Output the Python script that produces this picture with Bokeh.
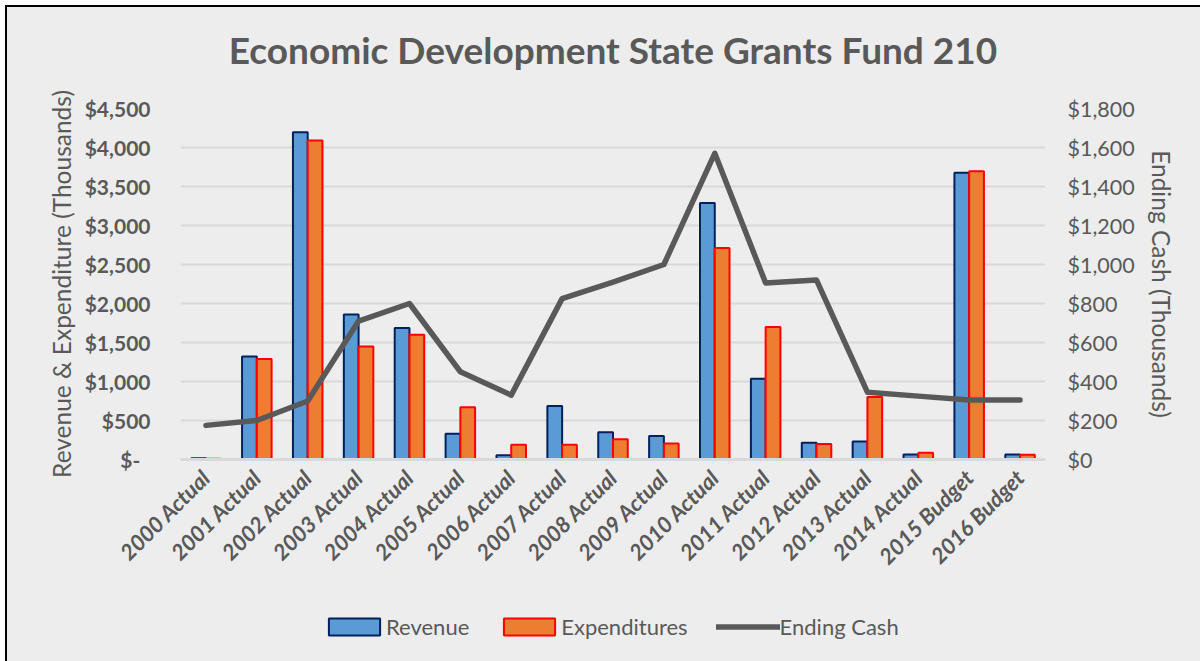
from bokeh.plotting import figure
from bokeh.models import (Range1d, LinearAxis, FixedTicker, Legend, LegendItem,
                          ColumnDataSource, FactorRange, Column, Title)
from bokeh.transform import dodge
from bokeh.embed import file_html
from bokeh.resources import INLINE
import math

categories = ["2000 Actual", "2001 Actual", "2002 Actual", "2003 Actual", "2004 Actual",
              "2005 Actual", "2006 Actual", "2007 Actual", "2008 Actual", "2009 Actual",
              "2010 Actual", "2011 Actual", "2012 Actual", "2013 Actual", "2014 Actual",
              "2015 Budget", "2016 Budget"]
revenue = [15, 1320, 4195, 1860, 1685, 330, 55, 685, 350, 300,
           3290, 1035, 215, 230, 65, 3675, 65]
expenditures = [10, 1290, 4090, 1450, 1600, 670, 190, 190, 260, 205,
                2710, 1700, 200, 800, 85, 3695, 60]
ending_cash = [175, 200, 300, 710, 800, 450, 330, 825, 910, 1000,
               1570, 905, 920, 345, 325, 305, 305]

left_ticks = [0, 500, 1000, 1500, 2000, 2500, 3000, 3500, 4000, 4500]
left_tick_labels = ["$-\u00a0\u00a0", "$500", "$1,000", "$1,500", "$2,000", "$2,500",
                    "$3,000", "$3,500", "$4,000", "$4,500"]
right_ticks = [0, 200, 400, 600, 800, 1000, 1200, 1400, 1600, 1800]
right_tick_labels = ["$0", "$200", "$400", "$600", "$800", "$1,000",
                     "$1,200", "$1,400", "$1,600", "$1,800"]
series_names = ["Revenue", "Expenditures", "Ending Cash"]
title_text = "Economic Development State Grants Fund 210"

TXT = "#595959"
BG = "#EDEDED"
FONT = "Lato"
REV_FILL, REV_LINE = "#5B9BD5", "#002060"
EXP_FILL, EXP_LINE = "#ED7D31", "#FF0000"
CASH_LINE = "#595959"

W = 1193
NAN = float("nan")

src = ColumnDataSource(dict(cat=categories, rev=revenue, exp=expenditures, cash=ending_cash))

p = figure(width=W, height=598, output_backend="svg", toolbar_location=None,
           x_range=FactorRange(factors=categories, range_padding=0),
           y_range=Range1d(0, 4500),
           min_border_left=173, min_border_right=W - 1038, min_border_top=101,
           min_border_bottom=146,
           background_fill_color=BG, border_fill_color=BG, outline_line_color=None)

# spacer (closest to the frame), then the real title above it
p.add_layout(Title(text=" ", text_font_size="10px", standoff=7), "above")
p.add_layout(Title(text=title_text, align="center", text_font=FONT, text_font_size="37px",
                   text_font_style="bold", text_color=TXT, standoff=34), "above")

p.extra_y_ranges = {"cash": Range1d(0, 1800)}

bw = 0.29
p.vbar(x=dodge("cat", -bw / 2, range=p.x_range), top="rev", width=bw, source=src,
       fill_color=REV_FILL, line_color=REV_LINE, line_width=2)
p.vbar(x=dodge("cat", bw / 2, range=p.x_range), top="exp", width=bw, source=src,
       fill_color=EXP_FILL, line_color=EXP_LINE, line_width=2)
p.line(x="cat", y="cash", source=src, y_range_name="cash",
       line_color=CASH_LINE, line_width=5.5, line_join="round", line_cap="round")

# left axis
ya = p.yaxis[0]
ya.ticker = FixedTicker(ticks=left_ticks)
ya.major_label_overrides = {t: l for t, l in zip(left_ticks, left_tick_labels)}
ya.axis_label = "Revenue & Expenditure (Thousands)"
ya.axis_line_color = None
ya.major_tick_line_color = None
ya.minor_tick_line_color = None
ya.major_label_text_font = FONT
ya.major_label_text_font_size = "21px"
ya.major_label_text_font_style = "bold"
ya.major_label_text_color = TXT
ya.major_label_standoff = 24
ya.axis_label_text_font = FONT
ya.axis_label_text_font_size = "24.5px"
ya.axis_label_text_font_style = "normal"
ya.axis_label_text_color = TXT
ya.axis_label_standoff = 6

# right axis
ra = LinearAxis(y_range_name="cash", ticker=FixedTicker(ticks=right_ticks))
ra.major_label_overrides = {t: l for t, l in zip(right_ticks, right_tick_labels)}
ra.axis_label = "Ending Cash (Thousands)"
ra.axis_line_color = None
ra.major_tick_line_color = None
ra.minor_tick_line_color = None
ra.major_label_text_font = FONT
ra.major_label_text_font_size = "21.5px"
ra.major_label_text_color = TXT
ra.major_label_standoff = 16
ra.axis_label_text_font = FONT
ra.axis_label_text_font_size = "24.5px"
ra.axis_label_text_font_style = "normal"
ra.axis_label_text_color = TXT
ra.axis_label_standoff = 9
p.add_layout(ra, "right")

# x axis
xa = p.xaxis[0]
xa.axis_line_color = "#D9D9D9"
xa.axis_line_width = 3
xa.major_tick_line_color = None
xa.minor_tick_line_color = None
xa.major_label_orientation = math.pi / 4
xa.major_label_text_font = FONT
xa.major_label_text_font_size = "22px"
xa.major_label_text_font_style = "bold italic"
xa.major_label_text_color = TXT
xa.major_label_standoff = 8

p.xgrid.grid_line_color = None
p.ygrid.ticker = FixedTicker(ticks=left_ticks)
p.ygrid.grid_line_color = "#D9D9D9"
p.ygrid.grid_line_width = 2

# legend strip below the chart (same borders so frames line up)
lf = figure(width=W, height=56, output_backend="svg", toolbar_location=None,
            x_range=Range1d(0, 1), y_range=Range1d(0, 1),
            x_axis_location=None, y_axis_location=None,
            min_border_left=173, min_border_right=W - 1038, min_border_top=0,
            min_border_bottom=0, outline_line_color=None,
            background_fill_color=BG, border_fill_color=BG)
lf.grid.visible = False
# legend-only renderers with no drawable data (NaN), used just for the legend swatches
lr = lf.vbar(x=[NAN], top=[NAN], width=0.1,
             fill_color=REV_FILL, line_color=REV_LINE, line_width=2)
le = lf.vbar(x=[NAN], top=[NAN], width=0.1,
             fill_color=EXP_FILL, line_color=EXP_LINE, line_width=2)
lc = lf.line(x=[NAN, NAN], y=[NAN, NAN], line_color=CASH_LINE, line_width=5.5,
             line_cap="round")
legend = Legend(items=[LegendItem(label=series_names[0], renderers=[lr]),
                       LegendItem(label=series_names[1], renderers=[le]),
                       LegendItem(label=series_names[2], renderers=[lc])],
                orientation="horizontal", location=(142, 21),
                glyph_width=64, glyph_height=21, label_standoff=0, spacing=28,
                padding=0, margin=0, background_fill_alpha=0, border_line_color=None,
                label_text_font=FONT, label_text_font_size="22px", label_text_color=TXT,
                label_height=21)
lf.add_layout(legend, "center")

layout = Column(children=[p, lf], spacing=0,
                styles={"margin-left": "5px", "margin-top": "5px",
                        "border-left": "2px solid black", "border-top": "2px solid black",
                        "background-color": BG})

open("out.html", "w").write(file_html(layout, INLINE))
